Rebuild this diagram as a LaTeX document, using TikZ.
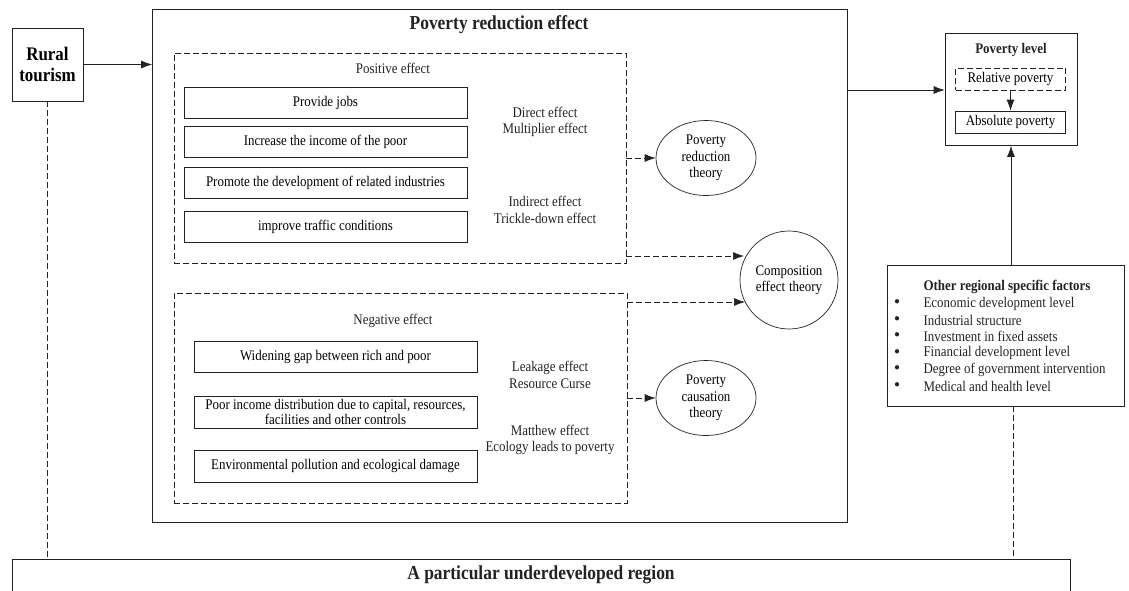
\documentclass[tikz,border=0pt]{standalone}
\usepackage{fontspec}
\setmainfont{Liberation Serif}[FakeStretch=0.88]
\usepackage{tikz}
\usetikzlibrary{arrows.meta,shapes.geometric}
\definecolor{ink}{HTML}{222222}
\tikzset{
  box/.style={draw=ink, line width=0.7pt, inner sep=0pt},
  dbox/.style={draw=ink, line width=0.7pt, inner sep=0pt, dash pattern=on 6pt off 3pt},
  item/.style={box, minimum width=283pt, minimum height=31pt, font=\txt, align=center},
  lab/.style={text=ink, font=\txt, align=center},
  theory/.style={draw=ink, line width=0.7pt, ellipse, minimum width=100pt, minimum height=75pt, inner sep=0pt, font=\txt, align=center},
  arr/.style={draw=ink, line width=0.7pt, -{Latex[length=11pt,width=8pt]}},
  darr/.style={arr, dash pattern=on 6pt off 3pt},
  link/.style={draw=ink, line width=0.7pt, dash pattern=on 6pt off 3pt},
}
\newcommand{\txt}{\fontsize{14.7}{16.5}\selectfont}
\newcommand{\head}{\bfseries\fontsize{19.8}{21}\selectfont}

\begin{document}
\begin{tikzpicture}[x=1pt,y=-1pt]
  \useasboundingbox (0,0) rectangle (1129,590);

  % left and main frames
  \node[box, minimum width=71pt, minimum height=73pt, align=center,
        font=\bfseries\fontsize{19.2}{21}\selectfont] (rural) at (47.5,64.5) {Rural\\tourism};
  \node[box, minimum width=695pt, minimum height=513pt] (main) at (500,266) {};
  \node[lab, font=\head] (title) at (499,25) {Poverty reduction effect};
  \draw[arr] (rural.east) -- (rural.east -| main.west);

  % positive effect
  \node[dbox, minimum width=452pt, minimum height=210pt] (pos) at (400,158) {};
  \node[lab] (postitle) at (393,68) {Positive effect};
  \node[item] (jobs) at (325.5,102.5) {Provide jobs};
  \node[item] (income) at (325.5,141.5) {Increase the income of the poor};
  \node[item] (industry) at (325.5,183) {Promote the development of related industries};
  \node[item] (traffic) at (325.5,226.5) {improve traffic conditions};
  \node[lab] (direct) at (545,122) {Direct effect\\Multiplier effect};
  \node[lab] (indirect) at (545,210) {Indirect effect\\Trickle-down effect};

  % negative effect
  \node[dbox, minimum width=453pt, minimum height=210pt] (neg) at (400.5,398) {};
  \node[lab] (negtitle) at (393,321) {Negative effect};
  \node[item] (gap) at (335.5,357) {Widening gap between rich and poor};
  \node[item, font=\fontsize{14.7}{15}\selectfont, minimum height=32pt] (distrib) at (335.5,412)
        {Poor income distribution due to capital, resources,\\facilities and other controls};
  \node[item, minimum height=32pt] (ecology) at (335.5,466) {Environmental pollution and ecological damage};
  \node[lab] (leakage) at (550,375) {Leakage effect\\Resource Curse};
  \node[lab] (matthew) at (550,440) {Matthew effect\\Ecology leads to poverty};

  % theories
  \node[theory] (reduct) at (706,158) {Poverty\\reduction\\theory};
  \node[theory] (causat) at (706,398) {Poverty\\causation\\theory};
  \node[draw=ink, line width=0.7pt, circle, minimum size=98pt, inner sep=0pt,
        font=\txt, align=center] (compos) at (789,280) {Composition\\effect\hspace{4pt}theory};
  \coordinate (c1) at (pos.east |- 0,256);
  \coordinate (c2) at (neg.east |- 0,302);
  \draw[darr] (pos.east |- reduct.west) -- (reduct.west);
  \draw[darr] (c1) -- (744,256);
  \draw[darr] (c2) -- (745,302);
  \draw[darr] (neg.east |- causat.west) -- (causat.west);

  % poverty level
  \node[box, minimum width=132pt, minimum height=112pt] (plevel) at (1011,89.5) {};
  \node[lab, font=\bfseries\fontsize{14.7}{16}\selectfont] (pltitle) at (1011,50) {Poverty level};
  \node[dbox, minimum width=110pt, minimum height=22pt, font=\txt] (relat) at (1010.5,79) {Relative poverty};
  \node[box, minimum width=110pt, minimum height=22pt, font=\txt] (absol) at (1010.5,122) {Absolute poverty};
  \draw[arr] (relat) -- (absol);
  \draw[arr] (main.east |- 0,90) -- (plevel.west |- 0,90);

  % other factors
  \node[box, minimum width=237pt, minimum height=141pt] (factors) at (1005.5,335.5) {};
  \node[lab, font=\bfseries\fontsize{14.7}{16}\selectfont, anchor=west] (fhead) at (920,287) {Other regional specific factors};
  \foreach \t [count=\i] in {Economic development level, Industrial structure,
      Investment in fixed assets, Financial development level,
      Degree of government intervention, Medical and health level} {
    \node[lab, anchor=west] (f\i) at (920,287+16.5*\i) {\t};
    \node[lab, font=\fontsize{11}{12}\selectfont] (b\i) at (897,286+16.5*\i) {$\bullet$};
  }
  \draw[arr] (factors.north -| plevel.south) -- (plevel.south);

  % region
  \node[box, minimum width=1058pt, minimum height=36pt] (region) at (541,577) {};
  \node[lab, font=\head] (rtitle) at (541,575) {A particular underdeveloped region};
  \draw[link] (rural.south) -- (rural.south |- region.north);
  \draw[link] (1013,406) coordinate (fb) -- (fb |- region.north);
\end{tikzpicture}
\end{document}
